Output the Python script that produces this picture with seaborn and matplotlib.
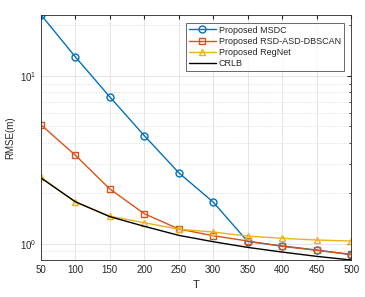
import numpy as np
import pandas as pd
import seaborn as sns
import matplotlib.pyplot as plt
from matplotlib.ticker import LogLocator, NullFormatter

# values
T = [50, 100, 150, 200, 250, 300, 350, 400, 450, 500]
msdc = [23.2, 13.0, 7.50, 4.41, 2.65, 1.77, 1.03, 0.97, 0.917, 0.86]
dbscan = [5.12, 3.37, 2.12, 1.51, 1.224, 1.116, 1.038, 0.965, 0.913, 0.865]
regnet = [2.49, 1.77, 1.46, 1.334, 1.22, 1.174, 1.11, 1.077, 1.052, 1.038]
crlb = [2.47, 1.78, 1.45, 1.27, 1.122, 1.028, 0.951, 0.892, 0.841, 0.80]

labels = ["Proposed MSDC", "Proposed RSD-ASD-DBSCAN", "Proposed RegNet", "CRLB"]
colors = ["#0072BD", "#D95319", "#EDB120", "#000000"]
markers = ["o", "s", "^", None]

sns.set_style("white")
plt.rcParams['font.family'] = ['Liberation Sans', 'DejaVu Sans']
plt.rcParams['font.size'] = 7

fig = plt.figure(figsize=(3.65, 2.97), dpi=100)
ax = fig.add_axes([0.112, 0.1246, 0.85, 0.826])

for vals, lab, col, mk in zip([msdc, dbscan, regnet, crlb], labels, colors, markers):
    df = pd.DataFrame({"T": T, "RMSE": vals})
    sns.lineplot(data=df, x="T", y="RMSE", ax=ax, color=col, label=lab,
                 marker=mk, markersize=5, mfc="none", mec=col, mew=1.0,
                 linewidth=1.0)

ax.set_yscale("log")
ax.set_xlim(50, 500)
ax.set_ylim(0.8, 23.2)
ax.set_xticks(T)
ax.yaxis.set_minor_locator(LogLocator(base=10, subs=np.arange(2, 10)))
ax.yaxis.set_minor_formatter(NullFormatter())

ax.grid(True, which="major", color="#e0e0e0", linewidth=0.6)
ax.grid(True, which="minor", axis="y", color="#d5d5d5", linestyle=":", linewidth=0.6)
ax.tick_params(which="both", direction="in", top=True, right=True, color="#262626",
               labelsize=7, length=3)
ax.tick_params(which="minor", length=1.5)
for sp in ax.spines.values():
    sp.set_color("#262626")
    sp.set_linewidth(0.6)

ax.set_xlabel("T", fontsize=8, labelpad=4)
ax.set_ylabel("RMSE(m)", fontsize=7, labelpad=3)

leg = ax.legend(loc="upper right", bbox_to_anchor=(0.99, 0.985), fontsize=6.5,
                frameon=True, fancybox=False, edgecolor="#262626",
                handlelength=3.0, borderpad=0.3, labelspacing=0.25, handletextpad=0.3)
leg.get_frame().set_linewidth(0.6)

plt.savefig("out.png", dpi=100)
plt.close()
